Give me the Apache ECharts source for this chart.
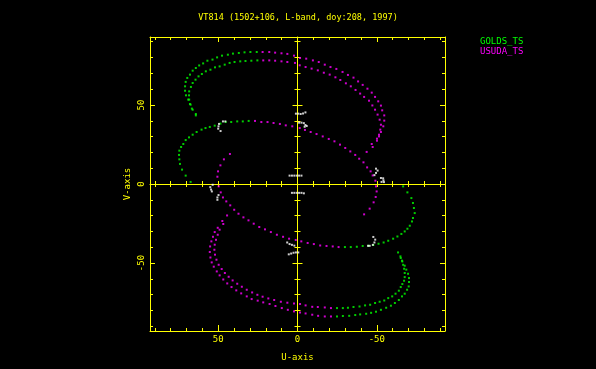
<!DOCTYPE html>
<html>
<head>
<meta charset="utf-8">
<script src="https://cdn.jsdelivr.net/npm/echarts@6/dist/echarts.min.js"></script>
<style>
  html, body { margin: 0; padding: 0; background: #000; }
  #chart { width: 596px; height: 369px; }
</style>
</head>
<body>
<div id="chart"></div>
<script>
// ---------------- data (u, v) ----------------
const titleText = 'VT814 (1502+106, L-band, doy:208, 1997)';
const seriesNames = ['GOLDS_TS', 'USUDA_TS'];
const minorTicks = [-90, -80, -70, -60, -50, -40, -30, -20, -10, 0, 10, 20, 30, 40, 50, 60, 70, 80, 90];
const majorTicks = [-50, 0, 50];
const tickLabels = [-50, 0, 50];

// GOLDS_TS (green)
const goldsUpperOuterA = [[64.1,44.3],[66.6,47.7],[67.8,50.6],[68.9,53.4],[70.3,56.1],[70.9,59],[70.9,61.8],[70.5,64.6],[69.5,67.1],[67.8,69.2],[66.1,71.7],[64.1,73.4],[62,75],[59.5,76.3],[56.8,78],[53.6,78.7],[50.7,80.1],[47.6,81.2],[43.9,81.8],[40.7,82.5],[37,82.9],[33.4,83.3],[29.7,83.5],[25.7,83.5]];
const goldsUpperOuterB = [[64.1,43.4],[66.1,47],[67.4,50.2],[68.3,53.4],[68.4,56.1],[68.3,58.6],[67.2,61.4],[66.1,63.9],[64.3,66],[62.4,68.1],[60.3,69.6],[57.8,71.3],[54.9,72.3],[52,73.8],[49.1,74.4],[45.9,75.5],[42.8,76.6],[39.7,77.2],[36.1,77.6],[32.8,77.8],[29.1,78],[25.3,78.2]];
const goldsUpperInner = [[67.4,1.3],[70.5,5.3],[72.8,9.1],[74.1,12.7],[74.5,15.6],[74.7,18.4],[74.5,21.1],[73.4,23.4],[72,25.3],[70.5,27.8],[68.4,29.5],[66.1,31.2],[63.6,32.9],[60.5,34.4],[58,35.4],[55.3,36.1],[52.2,36.9],[48.6,38.2],[45.3,39.2],[41.8,39.2],[38,39.6],[34.5,39.6],[30.8,39.9]];
const goldsLowerInner = [[-29.9,-39.9],[-33.6,-39.9],[-37.4,-39.7],[-41.1,-39.2],[-44.7,-39.1],[-47.8,-38.6],[-51.1,-37.8],[-54.3,-37],[-57.2,-35.9],[-60.3,-34.6],[-63,-33.2],[-65.5,-31.6],[-67.6,-30],[-69.3,-28.3],[-70.8,-26.4],[-72.2,-23.7],[-72.8,-21.5],[-73.9,-18.4],[-73.4,-15.2],[-72.8,-12],[-71.8,-8.9],[-69.3,-5.3],[-66.6,-1.5]];
const goldsLowerOuterA = [[-24.9,-83.8],[-28.6,-83.5],[-32.6,-83.4],[-36.4,-82.9],[-39.5,-82.5],[-43.3,-82.1],[-46.4,-81.5],[-49.5,-80.8],[-52.6,-79.6],[-55.9,-78.3],[-58.9,-77],[-61.4,-75.3],[-63.9,-73.4],[-65.9,-71.1],[-67.6,-69.4],[-69.1,-66.9],[-70.1,-64.8],[-70.3,-62],[-70.3,-59.5],[-69.7,-56.8],[-68.6,-54.2],[-67.6,-51.7],[-66.1,-49],[-65.1,-46.8],[-63.4,-43.3]];
const goldsLowerOuterB = [[-24.9,-78.5],[-28.6,-78.5],[-31.8,-78.3],[-35.3,-77.8],[-39.1,-77.5],[-42.6,-76.8],[-45.8,-76.4],[-48.9,-75.3],[-51.8,-74.5],[-54.7,-73.7],[-57.2,-72.2],[-59.7,-71.1],[-61.8,-69.4],[-63.9,-67.5],[-65.1,-65.2],[-66.1,-63.3],[-67.2,-61.2],[-67.6,-58.9],[-67.6,-56.3],[-67.2,-53.6],[-66.6,-51.1],[-65.9,-48.5],[-64.9,-45.8]];

// USUDA_TS (magenta)
const usudaUpperOuterA = [[22,83.5],[17.8,83.5],[14.1,83.1],[10.1,82.7],[6.4,82.3],[2.2,81.2],[-1.6,79.7],[-5.5,79.3],[-9.7,78.2],[-13.4,77.2],[-17.2,75.5],[-20.8,74],[-24.5,72.8],[-28.4,70.9],[-31.8,69],[-35.3,67.3],[-38.2,64.9],[-41.1,62.7],[-44.1,60.3],[-46.8,57.8],[-48.9,55.1],[-50.9,52.3],[-52.6,49.6],[-53.4,46.6],[-54.7,43.4],[-54.7,40.1],[-54.1,36.5],[-52.6,32.9],[-51.4,30.1],[-50.1,27.4],[-46.8,25.3]];
const usudaUpperOuterB = [[21.6,78.2],[17.8,78.2],[14.1,78],[10.1,77.6],[6.4,77.2],[1.6,76.6],[-1.4,75.1],[-5.1,74],[-8.9,73],[-12.8,71.9],[-16.6,70.4],[-20.3,69.2],[-23.9,67.5],[-27,65.8],[-30.5,63.7],[-33.6,61.8],[-36.6,59.5],[-39.5,57.2],[-42,55.1],[-45.1,52.7],[-47.2,49.7],[-48.9,47],[-50.5,43.9],[-51.8,40.7],[-52.6,37.5],[-52.2,34.4],[-51.4,31.2],[-50.1,28.7],[-47.4,23.4],[-43.6,20.3]];
const usudaUpperInner = [[26.8,39.9],[22.8,39.2],[18.9,39.2],[15.1,38.6],[11.1,38],[7.4,37.1],[3.3,36.5],[-1.4,35.4],[-4.7,34.2],[-8.3,32.9],[-12,31.6],[-15.9,30.1],[-19.7,28.5],[-23.3,27],[-26.8,24.9],[-30.1,22.8],[-33.3,20.6],[-36.4,18.4],[-38.9,16],[-41.6,13.7],[-43.9,10.5],[-46.1,8],[-47.4,5.4],[-49.1,2.1],[-49.5,-1.5],[-49.9,-4.7],[-49.3,-8.2],[-48,-11.6],[-45.5,-15.6],[-42,-19.2]];
const usudaLowerInner = [[42.6,19],[46.4,15.6],[48.6,11.8],[50.1,8],[50.5,4.6],[49.7,-1.5],[48.4,-5.3],[47,-8.5],[44.9,-11],[42.4,-13.5],[39.9,-16.3],[37.2,-18.8],[34.1,-21.1],[30.9,-23],[27.6,-25.1],[24.1,-27.2],[20.5,-28.7],[16.8,-30.4],[13,-32.1],[9.1,-33.4],[5.3,-34.6],[1.1,-35.4],[-2.4,-36.3],[-6.4,-37.3],[-10.3,-38],[-14.3,-38.9],[-18.3,-39.2],[-22.2,-39.5],[-25.9,-39.9]];
const usudaLowerOuterA = [[44.4,-19.9],[47.4,-23.4],[50.3,-27.7],[52.2,-30.4],[53.3,-33.4],[54.3,-36.3],[55.1,-39.5],[55.3,-43],[54.9,-46.5],[54.1,-49.6],[52.8,-52.3],[50.9,-55.3],[49.1,-57.8],[46.8,-60.4],[44.3,-62.9],[41.6,-65.2],[38.6,-67.3],[35.5,-69.2],[32,-71.1],[28.9,-72.8],[25.1,-73.8],[21.6,-74.9],[17.6,-75.9],[13.9,-77.2],[9.9,-78.5],[6.1,-79.6],[2.2,-80.6],[-1.6,-81.3],[-5.1,-81.9],[-9.3,-82.7],[-13,-83.4],[-17.2,-83.8],[-21.1,-83.8]];
const usudaLowerOuterB = [[46.8,-25.3],[49.1,-28.9],[50.3,-32.1],[51.4,-35.3],[52.2,-38.4],[52.4,-41.6],[52,-44.7],[51.1,-47.9],[49.7,-51.1],[47.8,-53.8],[45.8,-56.3],[43.4,-58.7],[40.9,-61],[38,-63.1],[35.1,-65],[32,-66.9],[28.6,-68.6],[25.3,-70.1],[22,-71.3],[18.4,-72.4],[14.7,-73.4],[10.5,-74.5],[6.4,-75.1],[2.2,-75.6],[-1.6,-75.9],[-5.1,-76.8],[-9.3,-77.7],[-12.8,-77.8],[-17.2,-78.1],[-21.1,-78.5]];

// other short baselines (white, not in legend)
const otherPoints = [
  [1,44.5],[-0.5,44.5],[-2,44.3],[-3.5,44.6],[-5,45.3],
  [-1,38.8],[-2.5,38.8],[-4,38.5],[-5,37.3],[-5.8,36.7],[-4.5,36.2],
  [5,5.3],[3.5,5.3],[2,5.3],[0.5,5.3],[-1,5.3],[-2.5,5.3],
  [3.5,-5.6],[2,-5.6],[0.5,-5.6],[-1,-5.6],[-2.5,-5.6],[-4,-5.9],
  [6.5,-37],[5,-38],[3.5,-38.5],[2,-39],
  [5.5,-44.5],[4,-44],[2.5,-43.5],[1,-43.3],[-0.5,-43.3],
  [45.5,39.6],[47,39.6],[49.5,38],[49.8,36.5],[50,35],[48.5,33.5],
  [53.5,-0.5],[55,-2],[54.5,-3.5],[54,-4.7],
  [49.8,-7],[50.5,-8.5],[50.5,-10],
  [-49.5,9.7],[-50.5,8.5],[-49.5,7],[-48.5,5.6],
  [-52.6,3.8],[-54,3.6],[-54.2,2.3],[-53,1.3],[-54.5,1.2],
  [-47.8,-33.5],[-49,-35.2],[-48.5,-37],[-47.5,-38.5],[-45.5,-39.1],[-44.5,-39.1]
];

// ---------------- chart ----------------
const YEL = '#ffff00';
const GREEN = '#00ff00';
const MAG = '#ff00ff';
const FONT = 'DejaVu Sans Mono';
const AX_MIN = -93, AX_MAX = 93;

function axisBase(extra) {
  const base = {
    type: 'value', gridIndex: 0, min: AX_MIN, max: AX_MAX,
    splitLine: { show: false },
    axisLabel: { show: false },
    axisLine: { show: false, onZero: false },
    axisTick: { show: false }
  };
  return Object.assign(base, extra);
}
function line(onZero) {
  const o = { show: true, onZero: !!onZero, lineStyle: { color: YEL, width: 1 } };
  if (onZero) o.onZeroAxisIndex = 0;
  return o;
}
function noLine(onZero) {
  const o = { show: false, onZero: !!onZero };
  if (onZero) o.onZeroAxisIndex = 0;
  return o;
}
function ticks(values, len, inside) {
  return { show: true, inside: inside, length: len, customValues: values, lineStyle: { color: YEL, width: 1 } };
}

const xAxes = [
  axisBase({ position: 'bottom', inverse: true, axisLine: line(false), axisTick: ticks(minorTicks, 3, true),
    axisLabel: { show: true, customValues: tickLabels, color: YEL, fontFamily: FONT, fontSize: 9, margin: 4 },
    name: 'U-axis', nameLocation: 'middle', nameGap: 22,
    nameTextStyle: { color: YEL, fontFamily: FONT, fontSize: 9 } }),
  axisBase({ position: 'bottom', inverse: true, axisLine: noLine(false), axisTick: ticks(majorTicks, 6, true) }),
  axisBase({ position: 'top', inverse: true, axisLine: line(false), axisTick: ticks(minorTicks, 3, true) }),
  axisBase({ position: 'top', inverse: true, axisLine: noLine(false), axisTick: ticks(majorTicks, 5, true) }),
  axisBase({ position: 'bottom', inverse: true, axisLine: line(true), axisTick: ticks(minorTicks, 3, true) }),
  axisBase({ position: 'bottom', inverse: true, axisLine: noLine(true), axisTick: ticks(minorTicks, 3, false) })
];
const yAxes = [
  axisBase({ position: 'left', axisLine: line(false), axisTick: ticks(minorTicks, 3, true),
    axisLabel: { show: true, customValues: tickLabels, color: YEL, fontFamily: FONT, fontSize: 9, margin: 4, rotate: 90 },
    name: 'V-axis', nameLocation: 'middle', nameGap: 18, nameRotate: 90,
    nameTextStyle: { color: YEL, fontFamily: FONT, fontSize: 9 } }),
  axisBase({ position: 'left', axisLine: noLine(false), axisTick: ticks(majorTicks, 5, true) }),
  axisBase({ position: 'right', axisLine: line(false), axisTick: ticks(minorTicks, 3, true) }),
  axisBase({ position: 'right', axisLine: noLine(false), axisTick: ticks(majorTicks, 5, true) }),
  axisBase({ position: 'left', axisLine: line(true), axisTick: ticks(minorTicks, 3, true) }),
  axisBase({ position: 'left', axisLine: noLine(true), axisTick: ticks(minorTicks, 3, false) }),
  axisBase({ position: 'left', axisLine: noLine(true), axisTick: ticks(majorTicks, 5, true) }),
  axisBase({ position: 'left', axisLine: noLine(true), axisTick: ticks(majorTicks, 5, false) })
];

const goldsData = [].concat(goldsUpperOuterA, goldsUpperOuterB, goldsUpperInner, goldsLowerInner, goldsLowerOuterA, goldsLowerOuterB);
const usudaData = [].concat(usudaUpperOuterA, usudaUpperOuterB, usudaUpperInner, usudaLowerInner, usudaLowerOuterA, usudaLowerOuterB);

const chart = echarts.init(document.getElementById('chart'), null, { renderer: 'canvas' });
chart.setOption({
  backgroundColor: '#000000',
  animation: false,
  title: {
    text: titleText, left: 'center', top: 8,
    textStyle: { color: YEL, fontFamily: FONT, fontSize: 8.5, fontWeight: 'normal' }
  },
  legend: {
    orient: 'vertical', left: 470, top: 32,
    itemWidth: 0, itemHeight: 0, itemGap: 1, icon: 'rect',
    selectedMode: false,
    textStyle: { fontFamily: FONT, fontSize: 9 },
    data: [
      { name: seriesNames[0], textStyle: { color: GREEN } },
      { name: seriesNames[1], textStyle: { color: MAG } }
    ]
  },
  grid: { left: 150, top: 37, width: 295, height: 294, containLabel: false },
  xAxis: xAxes,
  yAxis: yAxes,
  series: [
    { name: seriesNames[0], type: 'scatter', xAxisIndex: 0, yAxisIndex: 0, data: goldsData,
      symbol: 'rect', symbolSize: 2, itemStyle: { color: GREEN } },
    { name: seriesNames[1], type: 'scatter', xAxisIndex: 0, yAxisIndex: 0, data: usudaData,
      symbol: 'rect', symbolSize: 2, itemStyle: { color: MAG } },
    { name: 'other', type: 'scatter', xAxisIndex: 0, yAxisIndex: 0, data: otherPoints,
      symbol: 'rect', symbolSize: 2, itemStyle: { color: '#ffffff' } }
  ]
});
</script>
</body>
</html>
